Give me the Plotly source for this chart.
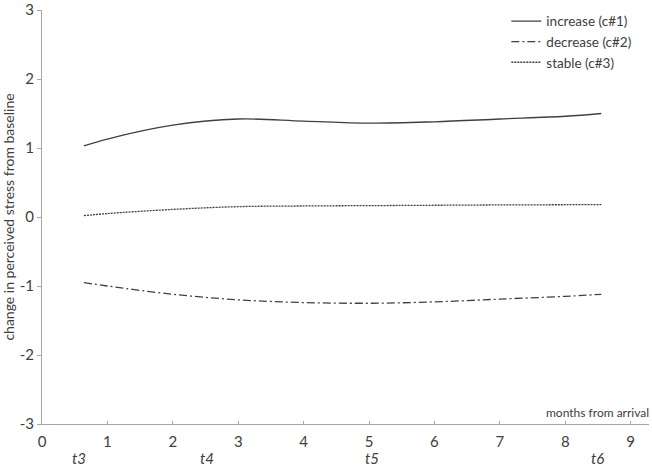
import plotly.graph_objects as go

# data
x_months = [0.64, 1, 2, 3, 4, 5, 6, 7, 8, 8.55]
increase = [1.03, 1.13, 1.33, 1.42, 1.39, 1.36, 1.38, 1.42, 1.46, 1.50]
decrease = [-0.95, -1.0, -1.12, -1.20, -1.24, -1.25, -1.23, -1.19, -1.15, -1.12]
stable = [0.02, 0.05, 0.11, 0.15, 0.16, 0.165, 0.17, 0.175, 0.178, 0.18]

series_names = ["increase (c#1)", "decrease (c#2)", "stable (c#3)"]
x_ticks = [0, 1, 2, 3, 4, 5, 6, 7, 8, 9]
y_ticks = [-3, -2, -1, 0, 1, 2, 3]
y_tick_text = ["-3", "-2", "-1", "0", "1", "2", "3"]
wave_labels = ["t3", "t4", "t5", "t6"]
wave_positions = [0.57, 2.52, 5.04, 8.5]

FONT = "Lato"
LINE = "#404040"
AXIS = "#a6a6a6"
TEXT = "#404040"

fig = go.Figure()
styles = ["solid", "8px,3px,2px,3px", "2px,1px"]
for name, ys, dash in zip(series_names, [increase, decrease, stable], styles):
    fig.add_trace(go.Scatter(
        x=x_months, y=ys, mode="lines", name=name,
        line=dict(color=LINE, width=1.3, dash=dash, shape="spline", smoothing=1.0),
    ))

for lab, pos in zip(wave_labels, wave_positions):
    fig.add_annotation(x=pos, xref="x", y=0, yref="paper", yanchor="middle", yshift=-34,
                       text=f"<i>{lab}</i>", showarrow=False,
                       font=dict(family=FONT, size=15, color=TEXT))

fig.add_annotation(x=1, xref="paper", y=-3, yref="y", yanchor="bottom", xanchor="right",
                   yshift=2, xshift=2, text="months from arrival", showarrow=False,
                   font=dict(family=FONT, size=12, color=TEXT))

fig.update_layout(
    width=652, height=466,
    margin=dict(l=42, r=3, t=10, b=42),
    paper_bgcolor="white", plot_bgcolor="white",
    font=dict(family=FONT, color=TEXT),
    showlegend=True,
    legend=dict(x=0.765, y=1.01, xanchor="left", yanchor="top",
                bgcolor="rgba(0,0,0,0)", font=dict(family=FONT, size=13.5, color=TEXT),
                itemwidth=30, tracegroupgap=0),
    xaxis=dict(range=[0, 9.28], tickvals=x_ticks, showgrid=False, zeroline=False,
               showline=True, linecolor=AXIS, linewidth=1, automargin=False,
               ticks="inside", ticklen=3, tickcolor=AXIS,
               tickfont=dict(family=FONT, size=15, color=TEXT), ticklabelstandoff=4),
    yaxis=dict(range=[-3, 3], tickvals=y_ticks, ticktext=y_tick_text,
               showgrid=False, zeroline=False, automargin=False,
               showline=True, linecolor=AXIS, linewidth=1,
               ticks="outside", ticklen=4, tickcolor=AXIS,
               tickfont=dict(family=FONT, size=15, color=TEXT),
               title=dict(text="change in perceived stress from baseline",
                          font=dict(family=FONT, size=14, color=TEXT), standoff=4)),
)

fig.write_html("out.html", config={"displayModeBar": False},
               post_script="document.body.style.margin='0px';")
